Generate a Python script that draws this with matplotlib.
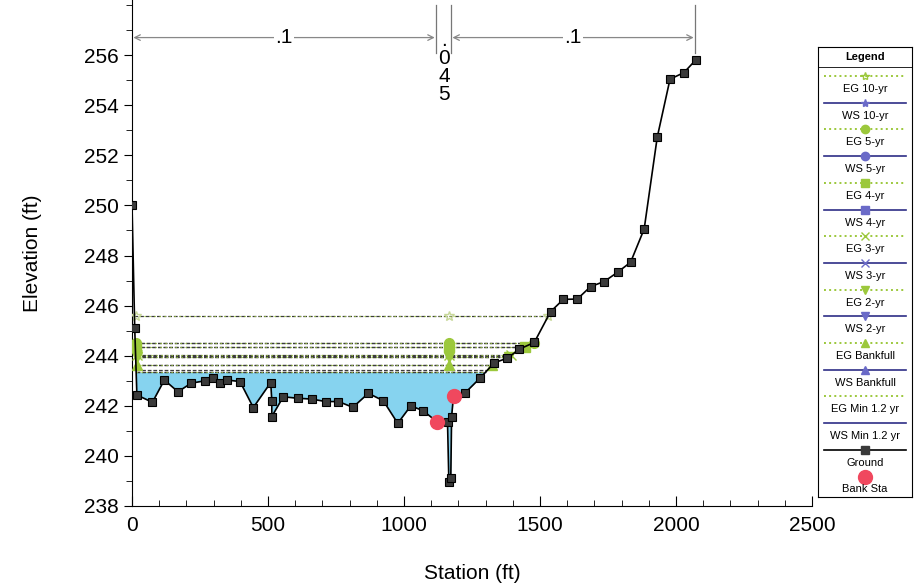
import numpy as np
import matplotlib
matplotlib.use("Agg")
import matplotlib.pyplot as plt
from matplotlib.ticker import MultipleLocator

plt.rcParams['font.family'] = ['Liberation Sans', 'DejaVu Sans']

# ground profile (station ft, elevation ft)
ground_x = [0, 10, 18, 75, 119, 169, 217, 268, 299, 324, 348, 397, 446, 510, 514, 514,
            556, 611, 660, 712, 759, 812, 869, 924, 977, 1025, 1071, 1120, 1160, 1165,
            1172, 1175, 1182, 1226, 1279, 1332, 1380, 1424, 1479, 1539, 1586, 1637,
            1686, 1736, 1785, 1833, 1883, 1931, 1978, 2029, 2072]
ground_y = [250.0, 245.1, 242.43, 242.14, 243.03, 242.56, 242.9, 243.0, 243.1, 242.9,
            243.03, 242.97, 241.93, 242.93, 242.2, 241.57, 242.36, 242.3, 242.27, 242.17,
            242.17, 241.94, 242.5, 242.2, 241.3, 242.0, 241.8, 241.37, 241.35, 238.95,
            239.1, 241.57, 242.39, 242.53, 243.1, 243.72, 243.9, 244.26, 244.53, 245.76,
            246.25, 246.26, 246.76, 246.96, 247.33, 247.73, 249.06, 252.72, 255.04, 255.3,
            255.8]

bank_x = [1120, 1182]
bank_y = [241.37, 242.39]

profiles = ['10-yr', '5-yr', '4-yr', '3-yr', '2-yr', 'Bankfull', 'Min 1.2 yr']
eg_levels = [245.58, 244.52, 244.36, 244.02, 243.95, 243.63, 243.36]
ws_levels = [244.50, 244.34, 244.00, 243.93, 243.61, 243.42, 243.34]
markers = ['*', 'o', 's', 'x', 'v', '^', None]

n_breaks = [0, 1118, 1173, 2070]
n_values = ['.1', '.045', '.1']

x_ticks = [0, 500, 1000, 1500, 2000, 2500]
y_ticks = [238, 240, 242, 244, 246, 248, 250, 252, 254, 256]

eg_color = '#9cc83c'
ws_color = '#2e2e86'
gx = np.array(ground_x, dtype=float)
gy = np.array(ground_y, dtype=float)

fig = plt.figure(figsize=(9.14, 5.86), dpi=100)
ax = fig.add_axes([132 / 914, 1 - 506 / 586, 680 / 914, 506 / 586])

# water area for the lowest profile
ws_min = ws_levels[-1]
ax.fill_between(gx, gy, ws_min, where=gy < ws_min, interpolate=True,
                color='#86d3ef', lw=0, zorder=1)

# where each level meets the banks
left_x, left_y = gx[:3][::-1], gy[:3][::-1]
right_i = ground_x.index(1182)
right_x, right_y = gx[right_i:right_i + 8], gy[right_i:right_i + 8]

for i in range(len(profiles)):
    for lev, kind in [(ws_levels[i], 'ws'), (eg_levels[i], 'eg')]:
        x0 = np.interp(lev, left_y, left_x)
        x1 = np.interp(lev, right_y, right_x)
        ax.plot([x0, x1], [lev, lev], color='#3c3c3c', lw=0.9,
                dashes=(3, 1.5), zorder=2)
        if kind == 'eg':
            ax.plot([x0, x1], [lev, lev], color=eg_color, lw=0.8,
                    dashes=(1.2, 3.3), zorder=3)
            m = markers[i]
            if m is not None:
                mfc = 'none' if m == '*' else eg_color
                mec = '#c8d89a' if m == '*' else eg_color
                ax.plot([x0 + 4, 1167, x1], [lev] * 3, ls='none', marker=m, ms=7,
                        mfc=mfc, mec=mec, zorder=4)

ax.plot(gx, gy, color='black', lw=1.2, marker='s', ms=6, mfc='#3a3a3a',
        mec='black', mew=0.8, zorder=5)
ax.plot(bank_x, bank_y, ls='none', marker='o', ms=10, color='#f0485e', zorder=6)

# roughness annotations along the top
arrow_y = 256.7
for k in range(len(n_values)):
    xa, xb = n_breaks[k], n_breaks[k + 1]
    ax.plot([xb, xb], [256.1, 258.0], color='#777777', lw=0.9, zorder=2)
    if n_values[k] == '.045':
        ax.text((xa + xb) / 2 + 2, 256.95, '\n'.join(n_values[k]), ha='center', va='top',
                fontsize=15, linespacing=0.92)
    else:
        ax.annotate('', xy=(xa + 5, arrow_y), xytext=(xb - 5, arrow_y),
                    arrowprops=dict(arrowstyle='<->', color='#888888', lw=0.9,
                                    shrinkA=0, shrinkB=0))
        ax.text((xa + xb) / 2, arrow_y, n_values[k], ha='center', va='center',
                fontsize=15, bbox=dict(fc='white', ec='none', pad=1))

ax.set_xlim(0, 2500)
ax.set_ylim(238, 258.2)
ax.set_xticks(x_ticks)
ax.set_yticks(y_ticks)
ax.xaxis.set_minor_locator(MultipleLocator(100))
ax.yaxis.set_minor_locator(MultipleLocator(1))
ax.tick_params(axis='x', which='both', direction='in', labelsize=15, pad=7)
ax.tick_params(axis='x', which='major', length=7)
ax.tick_params(axis='x', which='minor', length=4)
ax.tick_params(axis='y', which='both', direction='out', labelsize=15)
ax.tick_params(axis='y', which='major', length=6)
ax.tick_params(axis='y', which='minor', length=4)
ax.spines['top'].set_visible(False)
ax.spines['right'].set_visible(False)
ax.set_xlabel('Station (ft)', fontsize=15, labelpad=21)
ax.set_ylabel('Elevation (ft)', fontsize=15, labelpad=30)

# legend panel
lg = fig.add_axes([818 / 914, 1 - 497 / 586, 94 / 914, 450 / 586])
lg.set_xlim(0, 94)
lg.set_ylim(450, 0)
lg.set_xticks([])
lg.set_yticks([])
for s in lg.spines.values():
    s.set_linewidth(0.8)
lg.text(47, 10, 'Legend', ha='center', va='center', fontsize=8, fontweight='bold')
lg.axhline(20, color='black', lw=0.6)

entries = []
for i, p in enumerate(profiles):
    entries.append(('EG ' + p, eg_color, ':', markers[i], eg_color))
    entries.append(('WS ' + p, ws_color, '-', markers[i], '#6a6ac8'))
entries.append(('Ground', 'black', '-', 's', '#3a3a3a'))
entries.append(('Bank Sta', 'none', 'none', 'o', '#f0485e'))

for i, (lab, lc, ls, m, mc) in enumerate(entries):
    yl = 29 + 26.7 * i
    if ls != 'none':
        lg.plot([6, 88], [yl, yl], color=lc, ls=ls, lw=1.2 if ls == '-' else 1.4)
    if m is not None:
        ms = 10 if lab == 'Bank Sta' else 6
        mfc = 'none' if (m == '*' and lab.startswith('EG')) else mc
        lg.plot([47], [yl], marker=m, ms=ms, mfc=mfc, mec=mc, ls='none')
    lg.text(47, yl + 13, lab, ha='center', va='center', fontsize=8)

fig.savefig('out.png', dpi=100)
